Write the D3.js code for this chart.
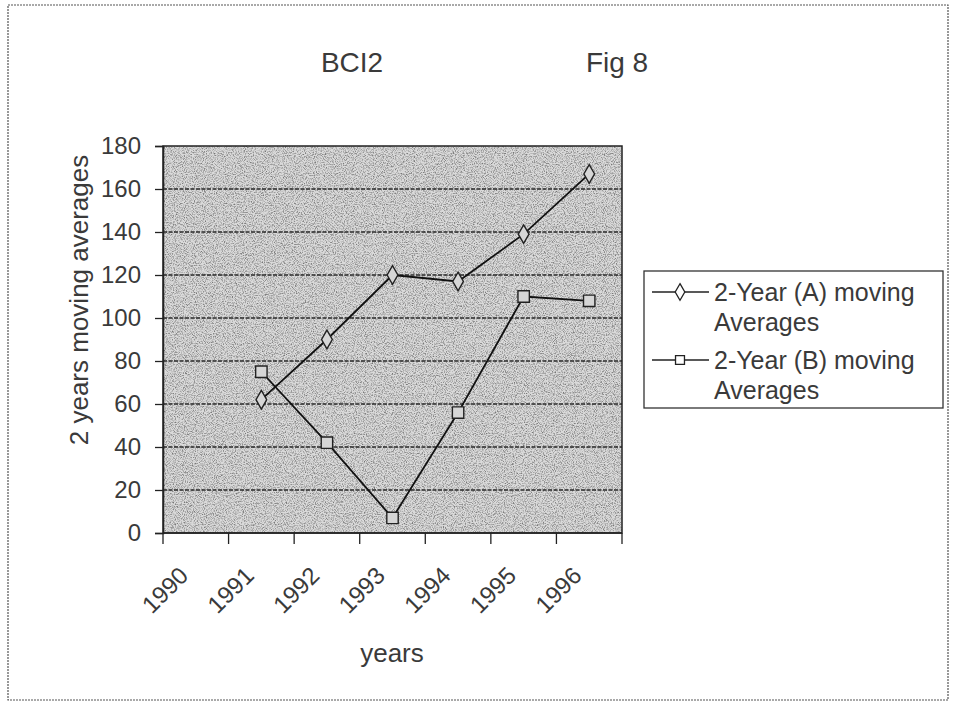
<!DOCTYPE html>
<html>
<head>
<meta charset="utf-8">
<script src="https://cdn.jsdelivr.net/npm/d3@7/dist/d3.min.js"></script>
<style>
  html, body { margin: 0; padding: 0; background: #fff; }
  svg { display: block; font-family: "Liberation Sans", Arial, sans-serif; }
</style>
</head>
<body>
<svg id="chart" width="957" height="708"></svg>
<script>
// Two-year moving averages, BCI2 (Fig 8)
const years = ["1990", "1991", "1992", "1993", "1994", "1995", "1996"];
const seriesA = [null, 62, 90, 120, 117, 139, 167];
const seriesB = [null, 75, 42, 7, 56, 110, 108];
const yTicks = [0, 20, 40, 60, 80, 100, 120, 140, 160, 180];
const seriesNames = ["2-Year (A) moving", "2-Year (B) moving"];

const svg = d3.select("#chart");
const plot = { left: 163, right: 622, top: 146, bottom: 533 };

// fine grain used for the shaded plot area
const defs = svg.append("defs");
const grain = defs.append("filter").attr("id", "grain")
  .attr("x", 0).attr("y", 0).attr("width", "100%").attr("height", "100%");
grain.append("feTurbulence").attr("type", "fractalNoise")
  .attr("baseFrequency", 0.9).attr("numOctaves", 2).attr("seed", 7);
grain.append("feColorMatrix").attr("type", "matrix")
  .attr("values", "0 0 0 0 0  0 0 0 0 0  0 0 0 0 0  2.6 0 0 0 -1.12");

// outer frame
svg.append("rect").attr("x", 8).attr("y", 5).attr("width", 940).attr("height", 695)
  .attr("fill", "#fff").attr("stroke", "#555").attr("stroke-width", 1.2)
  .attr("stroke-dasharray", "2,1");

const x = d3.scaleBand().domain(years).range([plot.left, plot.right]).padding(0);
const y = d3.scaleLinear().domain([0, 180]).range([plot.bottom, plot.top]);

// plot area
svg.append("rect").attr("x", plot.left).attr("y", plot.top)
  .attr("width", plot.right - plot.left).attr("height", plot.bottom - plot.top)
  .attr("fill", "#dadada");
svg.append("rect").attr("x", plot.left).attr("y", plot.top)
  .attr("width", plot.right - plot.left).attr("height", plot.bottom - plot.top)
  .attr("fill", "#000").attr("opacity", 0.45).attr("filter", "url(#grain)");

// horizontal gridlines
svg.append("g").selectAll("line").data(yTicks.filter(v => v > 0 && v < 180)).join("line")
  .attr("x1", plot.left).attr("x2", plot.right)
  .attr("y1", d => y(d)).attr("y2", d => y(d))
  .attr("stroke", "#2a2a2a").attr("stroke-width", 1.3).attr("stroke-dasharray", "4,1.5");

// plot border
svg.append("rect").attr("x", plot.left).attr("y", plot.top)
  .attr("width", plot.right - plot.left).attr("height", plot.bottom - plot.top)
  .attr("fill", "none").attr("stroke", "#222").attr("stroke-width", 1.5);

// y axis
const yAxis = svg.append("g").attr("transform", `translate(${plot.left},0)`)
  .call(d3.axisLeft(y).tickValues(yTicks).tickSize(8).tickPadding(14));
yAxis.select(".domain").attr("stroke", "#222").attr("stroke-width", 1.5);
yAxis.selectAll(".tick line").attr("stroke", "#222").attr("stroke-width", 1.3);
yAxis.selectAll(".tick text").attr("font-size", 24).attr("fill", "#3a3a3a")
  .attr("font-family", "Liberation Sans, Arial, sans-serif");

// x axis: ticks on band boundaries, labels centred in bands
const xAxisG = svg.append("g").attr("transform", `translate(0,${plot.bottom})`);
xAxisG.append("line").attr("x1", plot.left).attr("x2", plot.right)
  .attr("stroke", "#222").attr("stroke-width", 1.5);
const bounds = years.map(d => x(d)).concat([x(years[years.length - 1]) + x.bandwidth()]);
xAxisG.selectAll("line.tk").data(bounds).join("line").attr("class", "tk")
  .attr("x1", d => d).attr("x2", d => d).attr("y1", 0).attr("y2", 11)
  .attr("stroke", "#222").attr("stroke-width", 1.3);
xAxisG.selectAll("text").data(years).join("text")
  .attr("transform", d => `translate(${x(d) + x.bandwidth() / 2 - 6},${44}) rotate(-45)`)
  .attr("text-anchor", "end").attr("font-size", 24).attr("fill", "#3a3a3a")
  .text(d => d);

// axis titles and chart titles
svg.append("text").attr("x", 392).attr("y", 662).attr("text-anchor", "middle")
  .attr("font-size", 26).attr("fill", "#3a3a3a").text("years");
svg.append("text").attr("transform", "translate(88,300) rotate(-90)")
  .attr("text-anchor", "middle").attr("font-size", 26).attr("fill", "#3a3a3a")
  .text("2 years moving averages");
svg.append("text").attr("x", 352).attr("y", 72).attr("text-anchor", "middle")
  .attr("font-size", 28).attr("fill", "#3a3a3a").text("BCI2");
svg.append("text").attr("x", 617).attr("y", 72).attr("text-anchor", "middle")
  .attr("font-size", 28).attr("fill", "#3a3a3a").text("Fig 8");

// series
const cx = (d, i) => x(years[i]) + x.bandwidth() / 2;
const line = d3.line().defined(d => d != null).x(cx).y(d => y(d));
const diamond = d3.symbol().type(d3.symbolDiamond).size(100);
const square = d3.symbol().type(d3.symbolSquare).size(130);

function drawSeries(values, sym) {
  svg.append("path").datum(values).attr("d", line)
    .attr("fill", "none").attr("stroke", "#111").attr("stroke-width", 1.8);
  svg.append("g").selectAll("path").data(values.map((v, i) => ({ v, i })).filter(d => d.v != null))
    .join("path").attr("d", sym)
    .attr("transform", d => `translate(${cx(d.v, d.i)},${y(d.v)})`)
    .attr("fill", "#d6d6d6").attr("stroke", "#222").attr("stroke-width", 1.4);
}
drawSeries(seriesA, diamond);
drawSeries(seriesB, square);

// legend
const lg = svg.append("g");
lg.append("rect").attr("x", 644).attr("y", 271).attr("width", 299).attr("height", 137)
  .attr("fill", "#fff").attr("stroke", "#333").attr("stroke-width", 1.3);
const rows = [
  { name: seriesNames[0], sym: diamond, y: 292 },
  { name: seriesNames[1], sym: square, y: 360 }
];
rows.forEach(r => {
  lg.append("line").attr("x1", 652).attr("x2", 709).attr("y1", r.y).attr("y2", r.y)
    .attr("stroke", "#222").attr("stroke-width", 1.6);
  lg.append("path").attr("d", r.sym.size(80)()).attr("transform", `translate(680,${r.y})`)
    .attr("fill", "#fff").attr("stroke", "#222").attr("stroke-width", 1.3);
  const t = lg.append("text").attr("x", 714).attr("y", r.y + 9)
    .attr("font-size", 25).attr("fill", "#3a3a3a");
  t.append("tspan").attr("x", 714).text(r.name);
  t.append("tspan").attr("x", 714).attr("dy", 30).text("Averages");
});
</script>
</body>
</html>
